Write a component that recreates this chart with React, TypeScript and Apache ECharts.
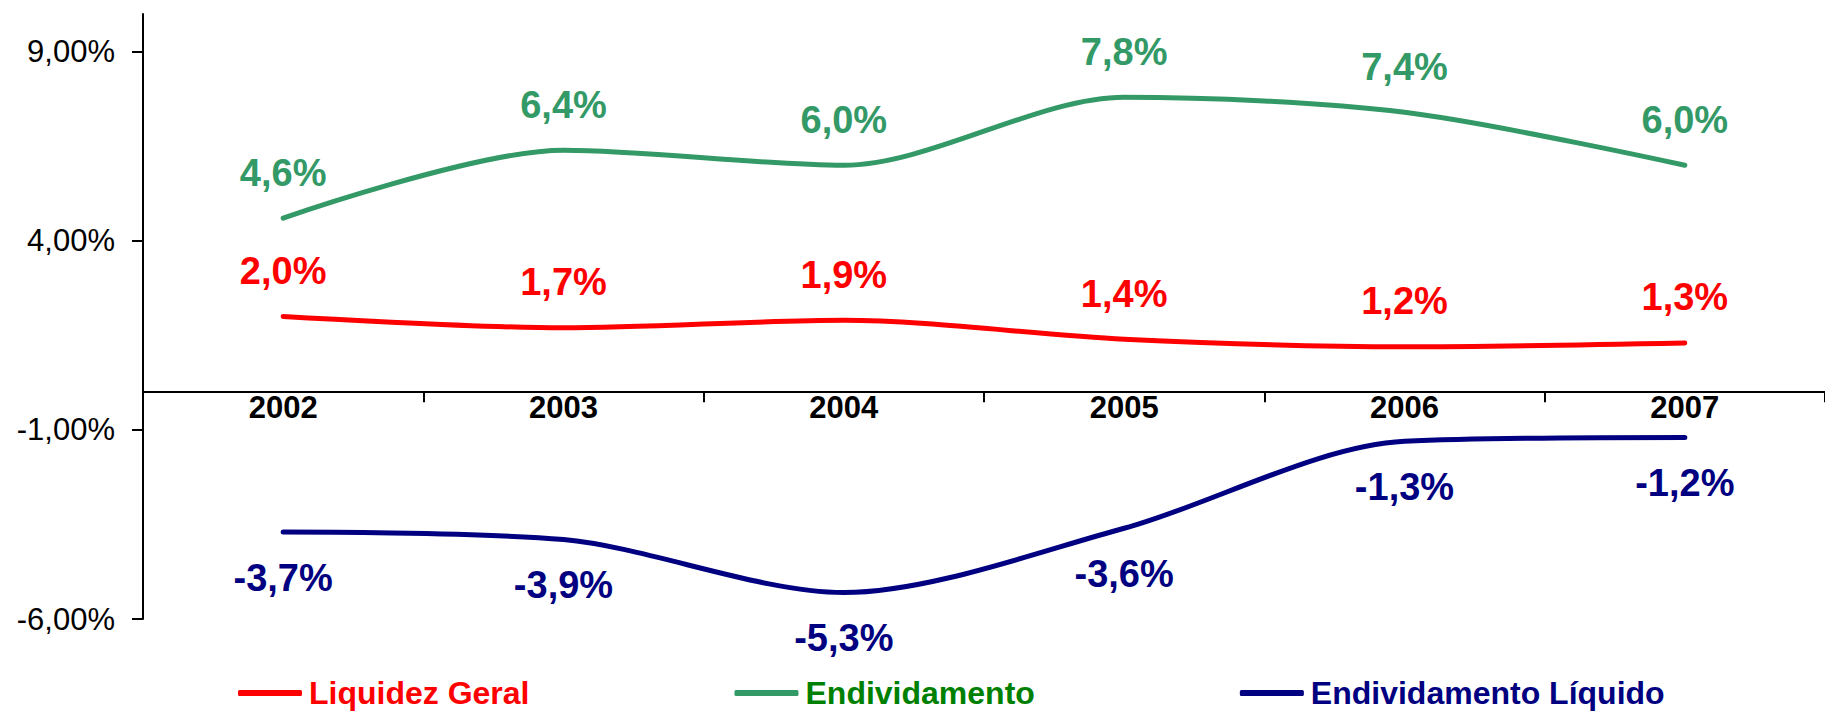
import React, { useEffect, useRef } from "react";
import * as echarts from "echarts";

const years = ["2002", "2003", "2004", "2005", "2006", "2007"];
const liquidezGeral = [2.0, 1.7, 1.9, 1.4, 1.2, 1.3];
const endividamento = [4.6, 6.4, 6.0, 7.8, 7.4, 6.0];
const endividamentoLiquido = [-3.7, -3.9, -5.3, -3.6, -1.3, -1.2];
const yTicks = [-6, -1, 4, 9];
const Y_MIN = -6;
const Y_MAX = 10;

const FONT = "'Liberation Sans', Arial, sans-serif";

const pct1 = (v: number) => v.toFixed(1).replace(".", ",") + "%";
const pct2 = (v: number) => v.toFixed(2).replace(".", ",") + "%";

export default function App() {
  const ref = useRef<HTMLDivElement>(null);
  useEffect(() => {
    if (!ref.current) return;
    const chart = echarts.init(ref.current, null, { renderer: "svg" });
    const H = 712;
    const gridTop = 14;
    const gridBottom = 93;
    const gridH = H - gridTop - gridBottom;
    const zeroOffset = (gridH * (0 - Y_MIN)) / (Y_MAX - Y_MIN);
    const mkSeries = (
      name: string,
      data: number[],
      color: string,
      pos: "top" | "bottom"
    ) => ({
      name,
      type: "line",
      data,
      smooth: 0.3,
      symbol: "circle",
      symbolSize: 1,
      showSymbol: true,
      itemStyle: { color },
      lineStyle: { color, width: 5, cap: "round" },
      label: {
        show: true,
        position: pos,
        distance: 26,
        color,
        fontFamily: FONT,
        fontWeight: "bold",
        fontSize: 38,
        formatter: (p: any) => pct1(p.value),
      },
    });
    chart.setOption({
      animation: false,
      backgroundColor: "#ffffff",
      grid: { left: 143, top: gridTop, bottom: gridBottom, width: 1692, containLabel: false },
      legend: {
        left: 233,
        top: 672,
        itemGap: 205,
        itemWidth: 64,
        itemHeight: 6,
        icon: "roundRect",
        textStyle: { fontFamily: FONT, fontWeight: "bold", fontSize: 32, padding: [0, 0, 0, 2] },
        data: [
          { name: "Liquidez Geral", textStyle: { color: "#ff0000" } },
          { name: "Endividamento", textStyle: { color: "#008000" } },
          { name: "Endividamento Líquido", textStyle: { color: "#000080" } },
        ],
      },
      xAxis: {
        type: "category",
        data: years,
        position: "bottom",
        offset: -zeroOffset,
        boundaryGap: true,
        axisLine: { onZero: false, lineStyle: { color: "#000", width: 2 } },
        axisTick: { show: true, length: 10, lineStyle: { color: "#000", width: 2 } },
        axisLabel: {
          margin: 0,
          color: "#000",
          fontFamily: FONT,
          fontWeight: "bold",
          fontSize: 31,
        },
        splitLine: { show: false },
      },
      yAxis: {
        type: "value",
        min: Y_MIN,
        max: Y_MAX,
        interval: 5,
        axisLine: { show: true, lineStyle: { color: "#000", width: 2 } },
        axisTick: { show: true, length: 11, customValues: yTicks, lineStyle: { color: "#000", width: 2 } },
        axisLabel: {
          customValues: yTicks,
          margin: 28,
          color: "#000",
          fontFamily: FONT,
          fontSize: 31,
          formatter: (v: number) => pct2(v),
        },
        splitLine: { show: false },
      },
      series: [
        mkSeries("Liquidez Geral", liquidezGeral, "#ff0000", "top"),
        mkSeries("Endividamento", endividamento, "#339966", "top"),
        mkSeries("Endividamento Líquido", endividamentoLiquido, "#000080", "bottom"),
      ],
    });
    return () => chart.dispose();
  }, []);
  return (
    <div
      ref={ref}
      style={{ position: "fixed", left: 0, top: 0, width: 1825, height: 712, background: "#fff" }}
    />
  );
}
